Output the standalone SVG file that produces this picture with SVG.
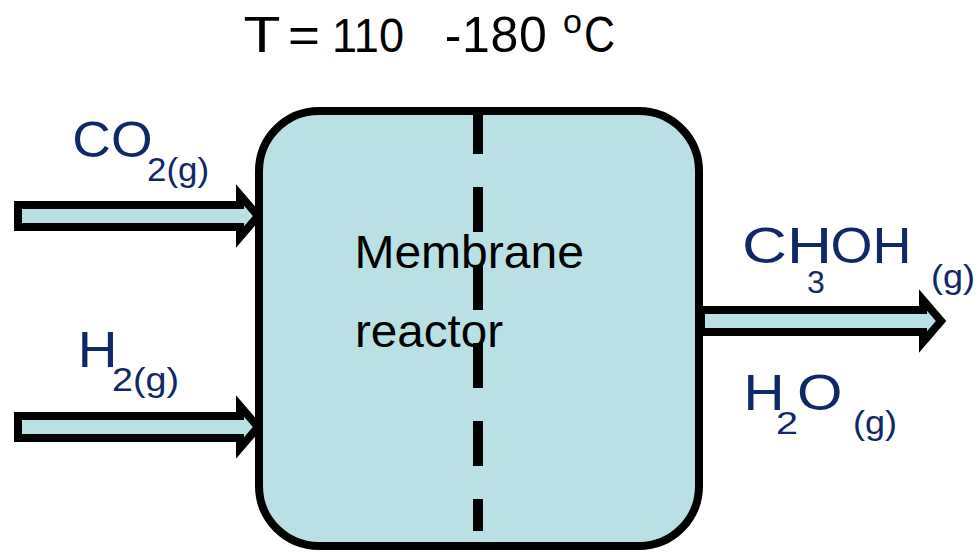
<svg xmlns="http://www.w3.org/2000/svg" width="979" height="552" viewBox="0 0 979 552">
<style>
.bk{font-family:"Liberation Sans",Arial,sans-serif;fill:#000}
.nv{font-family:"Liberation Sans",Arial,sans-serif;fill:#0f2868}
.arrow{fill:#b9e0e4;stroke:#000;stroke-width:8;stroke-linejoin:miter;stroke-miterlimit:10}
</style>
<rect width="979" height="552" fill="#fff"/>
<g id="connectors">
<polygon class="arrow" points="18,205 240,205 240,195 258,216 240,237 240,227 18,227"/>
<polygon class="arrow" points="18,416 240,416 240,406 258,427 240,448 240,438 18,438"/>
<polygon class="arrow" points="701,310 923,310 923,300 941,321 923,342 923,332 701,332"/>
</g>
<g id="reactor">
<rect x="259" y="111" width="440" height="435" rx="60" ry="60" fill="#b9e0e4" stroke="#000" stroke-width="8"/>
<line x1="478" y1="109" x2="478" y2="531" stroke="#000" stroke-width="10" stroke-dasharray="45 33"/>
<text class="bk" x="354.4" y="268" font-size="46" textLength="229.5" lengthAdjust="spacingAndGlyphs">Membrane</text>
<text class="bk" x="355" y="347" font-size="46" textLength="148" lengthAdjust="spacingAndGlyphs">reactor</text>
</g>
<g id="temperature">
<text class="bk" x="243.5" y="52" font-size="50" textLength="37" lengthAdjust="spacingAndGlyphs">T</text>
<text class="bk" x="288" y="52" font-size="50" textLength="32" lengthAdjust="spacingAndGlyphs">=</text>
<text class="bk" x="332" y="52" font-size="48" textLength="72" lengthAdjust="spacingAndGlyphs">110</text>
<text class="bk" x="444.8" y="52" font-size="50" textLength="102" lengthAdjust="spacing">-180</text>
<text class="bk" x="563" y="33" font-size="34">o</text>
<text class="bk" x="584" y="52" font-size="50" textLength="31" lengthAdjust="spacingAndGlyphs">C</text>
</g>
<g id="co2">
<text class="nv" x="72.3" y="157" font-size="50" textLength="80.3" lengthAdjust="spacingAndGlyphs">CO</text>
<text class="nv" x="147" y="181" font-size="34" textLength="62" lengthAdjust="spacingAndGlyphs">2(g)</text>
</g>
<g id="h2">
<text class="nv" x="77.7" y="367" font-size="50" textLength="39.7" lengthAdjust="spacingAndGlyphs">H</text>
<text class="nv" x="112" y="391" font-size="34" textLength="67" lengthAdjust="spacingAndGlyphs">2(g)</text>
</g>
<g id="ch3oh">
<text class="nv" font-size="50"><tspan x="742" y="263" textLength="90" lengthAdjust="spacingAndGlyphs">CH</tspan><tspan x="807" y="293" font-size="32">3</tspan><tspan x="830.4" y="263" textLength="81" lengthAdjust="spacingAndGlyphs">OH</tspan></text>
<text class="nv" x="931" y="288" font-size="34" textLength="44" lengthAdjust="spacingAndGlyphs">(g)</text>
</g>
<g id="h2o">
<text class="nv" x="743.5" y="410" font-size="50" textLength="41" lengthAdjust="spacingAndGlyphs">H</text>
<text class="nv" x="776" y="434" font-size="32" textLength="22" lengthAdjust="spacingAndGlyphs">2</text>
<text class="nv" x="797" y="410" font-size="50" textLength="45.5" lengthAdjust="spacingAndGlyphs">O</text>
<text class="nv" x="853" y="434" font-size="34" textLength="44" lengthAdjust="spacingAndGlyphs">(g)</text>
</g>
</svg>
